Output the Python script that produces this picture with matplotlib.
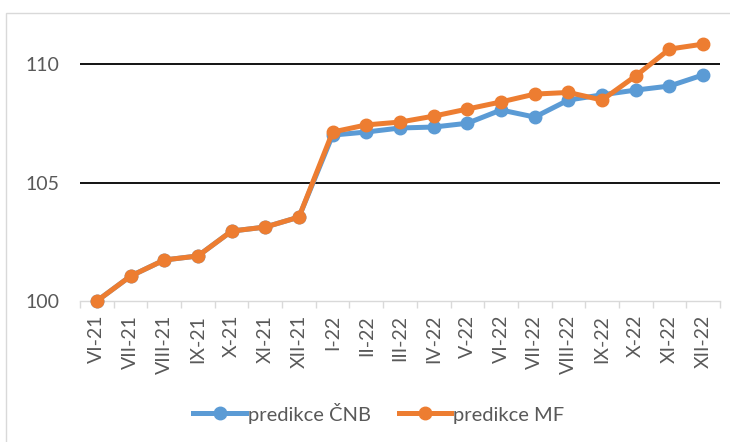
import matplotlib
matplotlib.use("Agg")
import matplotlib.pyplot as plt
from matplotlib.patches import Rectangle
import numpy as np

plt.rcParams['font.family'] = ['Lato', 'DejaVu Sans']

categories = ["VI-21", "VII-21", "VIII-21", "IX-21", "X-21", "XI-21", "XII-21",
              "I-22", "II-22", "III-22", "IV-22", "V-22", "VI-22", "VII-22",
              "VIII-22", "IX-22", "X-22", "XI-22", "XII-22"]
cnb = [100.0, 101.05, 101.73, 101.9, 102.95, 103.12, 103.54,
       107.0, 107.13, 107.3, 107.34, 107.5, 108.06, 107.76,
       108.48, 108.7, 108.9, 109.07, 109.54]
mf = [100.0, 101.05, 101.73, 101.9, 102.95, 103.12, 103.54,
      107.13, 107.43, 107.55, 107.8, 108.1, 108.4, 108.73,
      108.8, 108.48, 109.5, 110.63, 110.84]
yticks = [100, 105, 110]

fig = plt.figure(figsize=(7.3, 4.42), dpi=100)
ax = fig.add_axes([80/730, 1-301/442, 640/730, (301-40.3)/442])

x = np.arange(len(categories))
ax.plot(x, cnb, color="#5B9BD5", lw=3.6, marker="o", ms=9, label="predikce ČNB", zorder=3, clip_on=False)
ax.plot(x, mf, color="#ED7D31", lw=3.6, marker="o", ms=9, label="predikce MF", zorder=4, clip_on=False)

ax.set_xlim(-0.5, len(categories) - 0.5)
ax.set_ylim(100, 111)
ax.set_yticks(yticks)
ax.set_yticklabels([str(v) for v in yticks], fontsize=14, color="#595959")
for v in yticks[1:]:
    ax.axhline(v, color="black", lw=1.3, zorder=1)

ax.set_xticks(x)
ax.set_xticklabels(categories, rotation=90, fontsize=14, color="#595959")
ax.set_xticks(np.arange(-0.5, len(categories), 1), minor=True)
ax.tick_params(axis='x', which='major', length=0, pad=10)
ax.tick_params(axis='x', which='minor', length=5, color="#D9D9D9", width=1)
ax.tick_params(axis='y', length=0, pad=15)

for s in ["top", "right", "left"]:
    ax.spines[s].set_visible(False)
ax.spines["bottom"].set_color("#D9D9D9")
ax.spines["bottom"].set_linewidth(1)

fig.patches.append(Rectangle((6/730, -0.01), 1.0, 1 - 13/442 + 0.01, transform=fig.transFigure,
                             fill=False, edgecolor="#D9D9D9", lw=1))

leg = fig.legend(loc="center", bbox_to_anchor=(379/730, 1-413/442), ncol=2, frameon=False,
                 fontsize=14.5, handlelength=2.6, columnspacing=1.4, handletextpad=0.1)
for t in leg.get_texts():
    t.set_color("#595959")

fig.savefig("out.png", dpi=100)
